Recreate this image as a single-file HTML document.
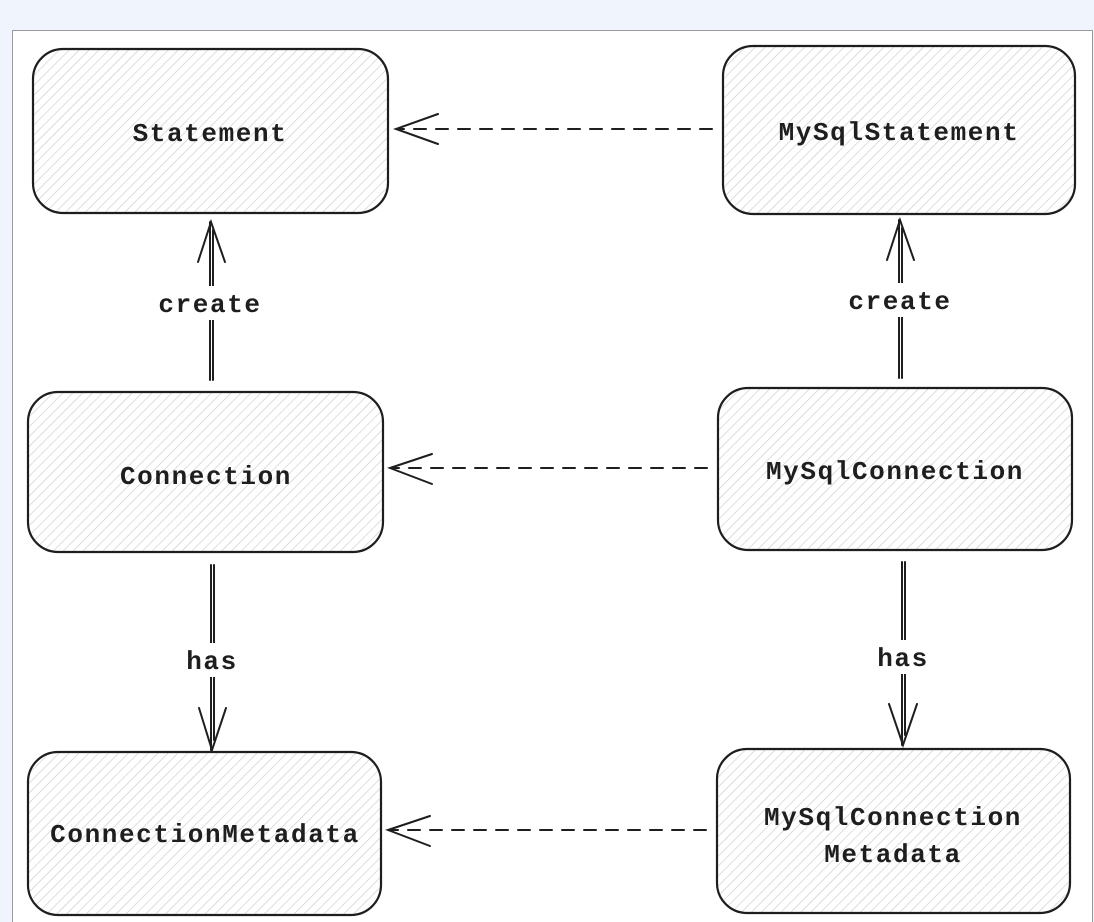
<!DOCTYPE html>
<html><head><style>
html,body{margin:0;padding:0;width:1094px;height:922px;overflow:hidden;background:#eff4fd;}
svg{position:absolute;left:0;top:0}
text{font-family:"Liberation Mono",monospace;font-weight:bold;font-size:26px;fill:#1e1e1e;text-anchor:middle;letter-spacing:1.6px}
</style></head><body>
<svg width="1094" height="922" viewBox="0 0 1094 922">
<defs>
<pattern id="h" width="7" height="7" patternUnits="userSpaceOnUse" patternTransform="rotate(45)">
<line x1="0" y1="0" x2="0" y2="7" stroke="#c8c8c8" stroke-width="1.2"/>
</pattern>
</defs>
<rect x="12.5" y="30.5" width="1080" height="900" fill="#fff" stroke="#9a9a9a"/>
<g stroke="#1e1e1e" stroke-width="2.2" fill="url(#h)">
<rect x="33" y="49" width="355" height="164" rx="30"/>
<rect x="723" y="46" width="352" height="168" rx="30"/>
<rect x="28" y="392" width="355" height="160" rx="30"/>
<rect x="718" y="388" width="354" height="162" rx="30"/>
<rect x="28" y="752" width="353" height="163" rx="30"/>
<rect x="717" y="749" width="353" height="164" rx="30"/>
</g>
<g stroke="#1e1e1e" stroke-width="2" fill="none" stroke-linecap="round">
<line x1="712" y1="129" x2="398" y2="129" stroke-dasharray="12 10"/>
<path d="M438 114 L396 129 L438 144"/>
<line x1="707" y1="468" x2="392" y2="468" stroke-dasharray="12 10"/>
<path d="M432 454 L390 468 L432 484"/>
<line x1="706" y1="830" x2="390" y2="830" stroke-dasharray="12 10"/>
<path d="M430 816 L388 830 L430 846"/>
<line x1="210" y1="380" x2="210" y2="222"/>
<line x1="213" y1="380" x2="213" y2="230"/>
<path d="M198 262 L211 222 L225 262"/>
<line x1="899" y1="378" x2="899" y2="220"/>
<line x1="902" y1="378" x2="902" y2="228"/>
<path d="M887 260 L900 220 L914 260"/>
<line x1="211" y1="565" x2="211" y2="750"/>
<line x1="214" y1="565" x2="214" y2="740"/>
<path d="M199 708 L212 750 L226 708"/>
<line x1="902" y1="562" x2="902" y2="745"/>
<line x1="905" y1="562" x2="905" y2="735"/>
<path d="M889 704 L903 745 L917 704"/>
</g>
<g fill="#fff">
<rect x="150" y="286" width="120" height="34"/>
<rect x="840" y="283" width="120" height="34"/>
<rect x="180" y="643" width="64" height="34"/>
<rect x="870" y="640" width="66" height="34"/>
</g>
<text x="210" y="141">Statement</text>
<text x="899" y="140">MySqlStatement</text>
<text x="206" y="484">Connection</text>
<text x="895" y="479">MySqlConnection</text>
<text x="205" y="842">ConnectionMetadata</text>
<text x="893" y="825">MySqlConnection</text>
<text x="893" y="862">Metadata</text>
<text x="210" y="312">create</text>
<text x="900" y="309">create</text>
<text x="212" y="669">has</text>
<text x="903" y="666">has</text>
</svg>
</body></html>
